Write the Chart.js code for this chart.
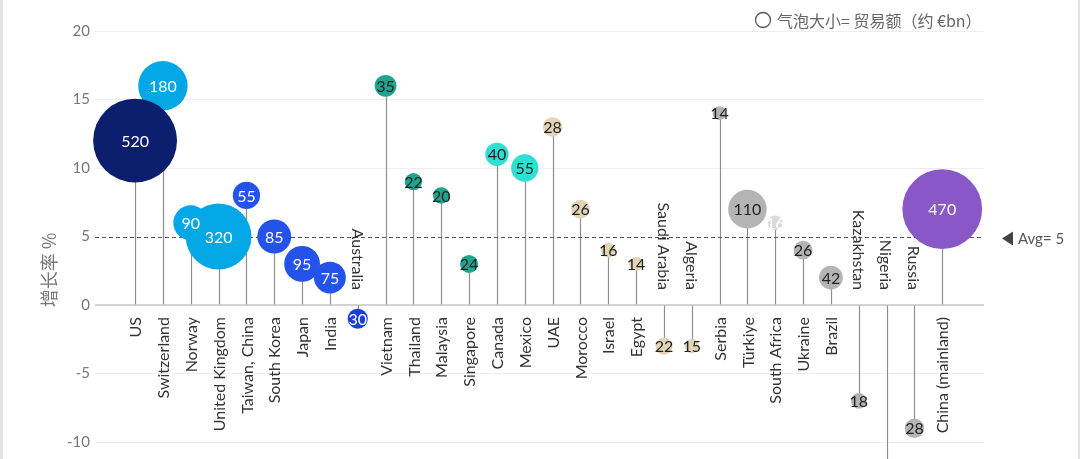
<!DOCTYPE html>
<html>
<head>
<meta charset="utf-8">
<script src="https://cdn.jsdelivr.net/npm/chart.js@4/dist/chart.umd.min.js"></script>
<style>
  body { margin: 0; background: #fff; }
  #wrap { position: relative; width: 1080px; height: 459px; }
  .edge { position: absolute; top: 0; bottom: 0; width: 3px; background: #e2e2e2; }
</style>
</head>
<body>
<div id="wrap">
  <canvas id="chart"></canvas>
  <div class="edge" style="left:0"></div>
  <div class="edge" style="right:0;width:2px"></div>
</div>
<script>
// countries, growth % and trade volume (bubble size, ~€bn)
const categories = ['US', 'Switzerland', 'Norway', 'United Kingdom', 'Taiwan, China', 'South Korea', 'Japan', 'India', 'Australia',
    'Vietnam', 'Thailand', 'Malaysia', 'Singapore', 'Canada', 'Mexico', 'UAE', 'Morocco', 'Israel', 'Egypt', 'Saudi Arabia', 'Algeria',
    'Serbia', 'Türkiye', 'South Africa', 'Ukraine', 'Brazil', 'Kazakhstan', 'Nigeria', 'Russia', 'China (mainland)'];
const growth = [12, 16, 6, 5, 8, 5, 3, 2, -1, 16, 9, 8, 3, 11, 10, 13, 7, 4, 3, -3, -3, 14, 7, 6, 4, 2, -7, -14, -9, 7];
const tradeSize = [520, 180, 90, 320, 55, 85, 95, 75, 30, 35, 22, 20, 24, 40, 55, 28, 26, 16, 14, 22, 15, 14, 110, 16, 26, 42, 18, 20, 28, 470];
const groups = ['us', 'europe', 'europe', 'europe', 'asia', 'asia', 'asia', 'asia', 'asia2', 'sea', 'sea', 'sea', 'sea', 'america', 'america',
    'mena', 'mena', 'mena', 'mena', 'mena', 'mena', 'other', 'other', 'pale', 'other', 'other', 'other', 'other', 'other', 'china'];
const yTicks = [-10, -5, 0, 5, 10, 15, 20];
const avgGrowth = 5;

const groupColors = {
    us: '#0c1f6f', europe: '#04a7e6', asia: '#2453ea', asia2: '#1c3ed8', sea: '#1fa58f',
    america: '#2fe0d2', mena: '#e4d4b6', other: '#b4b4b4', pale: '#dadada', china: '#8a57c7'
};
const whiteText = ['us', 'europe', 'asia', 'asia2', 'pale', 'china'];

const FONT = 'Lato, "Open Sans", sans-serif';
const CJK = '"Noto Sans CJK SC", "Noto Sans", sans-serif';

// draw small bubbles first so the big ones sit on top
const order = categories.map((c, i) => i).sort((a, b) => tradeSize[a] - tradeSize[b]);
const bubbleRadius = v => 1.84 * Math.sqrt(v);

const lollipopPlugin = {
    id: 'lollipop',
    beforeDatasetsDraw(chart) {
        const { ctx, chartArea: a, scales: { x, y } } = chart;
        const y0 = y.getPixelForValue(0);
        ctx.save();
        ctx.beginPath();
        ctx.rect(a.left, a.top, a.right - a.left, a.bottom - a.top);
        ctx.clip();
        // stems
        ctx.strokeStyle = '#8f8f8f';
        ctx.lineWidth = 1.2;
        growth.forEach((g, i) => {
            const px = Math.round(x.getPixelForValue(i)) + 0.5;
            ctx.beginPath();
            ctx.moveTo(px, y0);
            ctx.lineTo(px, y.getPixelForValue(g));
            ctx.stroke();
        });
        // zero line
        ctx.strokeStyle = '#c4c4c4';
        ctx.lineWidth = 1.5;
        ctx.beginPath();
        ctx.moveTo(a.left, y0);
        ctx.lineTo(a.right, y0);
        ctx.stroke();
        // average line
        const ya = Math.round(y.getPixelForValue(avgGrowth)) + 0.5;
        ctx.strokeStyle = '#555';
        ctx.lineWidth = 1;
        ctx.setLineDash([4, 3]);
        ctx.beginPath();
        ctx.moveTo(a.left, ya);
        ctx.lineTo(a.right, ya);
        ctx.stroke();
        ctx.restore();
    },
    afterDatasetsDraw(chart) {
        const { ctx, chartArea: a, scales: { x, y } } = chart;
        const y0 = y.getPixelForValue(0);
        ctx.save();

        // category labels
        ctx.font = '16px ' + FONT;
        ctx.fillStyle = '#333';
        ctx.textBaseline = 'middle';
        ctx.textAlign = 'right';
        categories.forEach((c, i) => {
            const px = x.getPixelForValue(i);
            ctx.save();
            if (growth[i] >= 0) {
                ctx.translate(px, y0 + 12);
                ctx.rotate(-Math.PI / 2);
            } else {
                ctx.translate(px, y0 - 15);
                ctx.rotate(Math.PI / 2);
            }
            ctx.fillText(c, 0, 1);
            ctx.restore();
        });

        // bubble values
        ctx.textAlign = 'center';
        ctx.font = '16px ' + FONT;
        growth.forEach((g, i) => {
            const py = y.getPixelForValue(g);
            if (py > a.bottom) return;
            ctx.fillStyle = whiteText.includes(groups[i]) ? '#fff' : '#222';
            ctx.fillText(tradeSize[i], x.getPixelForValue(i), py + 1);
        });

        // average marker
        const ya = y.getPixelForValue(avgGrowth);
        ctx.fillStyle = '#444';
        ctx.beginPath();
        ctx.moveTo(1002, ya + 2);
        ctx.lineTo(1013, ya - 5);
        ctx.lineTo(1013, ya + 9);
        ctx.closePath();
        ctx.fill();
        ctx.fillStyle = '#555';
        ctx.textAlign = 'left';
        ctx.font = '15px ' + FONT;
        ctx.fillText('Avg= 5', 1018, ya + 3);

        // legend note
        ctx.strokeStyle = '#555';
        ctx.lineWidth = 1.3;
        ctx.beginPath();
        ctx.arc(763, 20, 7.5, 0, Math.PI * 2);
        ctx.stroke();
        ctx.fillStyle = '#666';
        ctx.font = '16px ' + CJK;
        ctx.fillText('气泡大小= 贸易额（约 €bn）', 777, 21);

        // y axis title
        ctx.save();
        ctx.translate(49, 270);
        ctx.rotate(-Math.PI / 2);
        ctx.textAlign = 'center';
        ctx.fillStyle = '#777';
        ctx.font = '18px ' + CJK;
        ctx.fillText('增长率 %', 0, 0);
        ctx.restore();

        ctx.restore();
    }
};

new Chart(document.getElementById('chart'), {
    type: 'bubble',
    data: {
        datasets: [{
            data: order.map(i => ({ x: i, y: growth[i], r: bubbleRadius(tradeSize[i]) })),
            backgroundColor: order.map(i => groupColors[groups[i]]),
            borderWidth: 0,
            hoverRadius: 0,
            clip: false
        }]
    },
    options: {
        responsive: true,
        maintainAspectRatio: false,
        animation: false,
        layout: { autoPadding: false, padding: { top: 31, right: 96, bottom: 0, left: 0 } },
        plugins: { legend: { display: false }, tooltip: { enabled: false } },
        scales: {
            x: { type: 'linear', min: -1.44, max: 30.5, display: false },
            y: {
                min: -11.24,
                max: 20,
                afterBuildTicks: s => { s.ticks = yTicks.map(v => ({ value: v })); },
                afterFit: s => { s.width = 95; s.paddingTop = 0; s.paddingBottom = 0; },
                ticks: { color: '#777', font: { size: 15, family: FONT }, padding: 5 },
                grid: {
                    drawTicks: false,
                    color: c => (c.tick && (c.tick.value === 0 || c.tick.value === avgGrowth)) ? 'rgba(0,0,0,0)' : '#eeeeee'
                },
                border: { display: false }
            }
        }
    },
    plugins: [lollipopPlugin]
});
</script>
</body>
</html>
